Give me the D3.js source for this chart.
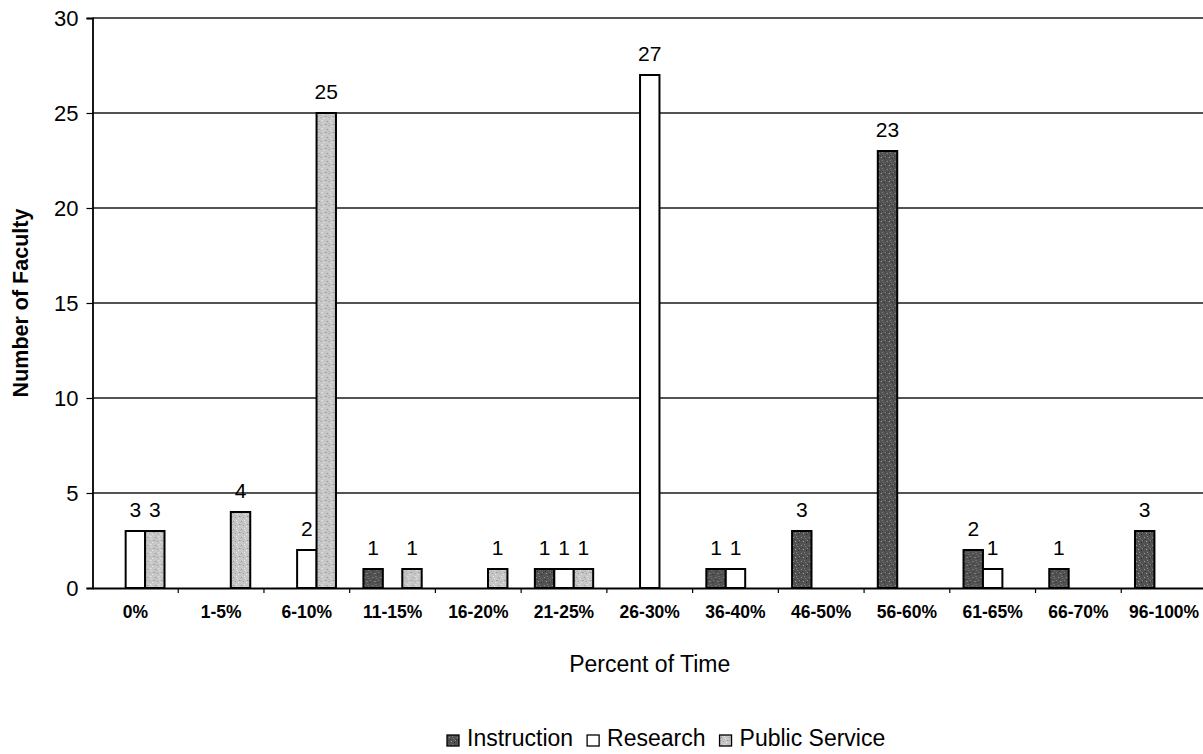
<!DOCTYPE html>
<html>
<head>
<meta charset="utf-8">
<script src="https://cdn.jsdelivr.net/npm/d3@7"></script>
<style>
  html, body { margin: 0; padding: 0; background: #fff; }
  svg { display: block; font-family: "Liberation Sans", Arial, sans-serif; }
</style>
</head>
<body>
<svg id="chart" width="1203" height="754"></svg>
<script>
const categories = ["0%", "1-5%", "6-10%", "11-15%", "16-20%", "21-25%", "26-30%", "36-40%", "46-50%", "56-60%", "61-65%", "66-70%", "96-100%"];
const seriesNames = ["Instruction", "Research", "Public Service"];
const instruction = [0, 0, 0, 1, 0, 1, 0, 1, 3, 23, 2, 1, 3];
const research = [3, 0, 2, 0, 0, 1, 27, 1, 0, 0, 1, 0, 0];
const publicService = [3, 4, 25, 1, 1, 1, 0, 0, 0, 0, 0, 0, 0];
const yTicks = [0, 5, 10, 15, 20, 25, 30];
const xTitle = "Percent of Time";
const yTitle = "Number of Faculty";

const seriesValues = [instruction, research, publicService];
const seriesFill = ["url(#patInstr)", "#ffffff", "url(#patPS)"];

const W = 1203, H = 754;
const plot = { left: 92.5, right: 1207, top: 18, bottom: 588 };

const svg = d3.select("#chart");
svg.append("rect").attr("width", W).attr("height", H).attr("fill", "#fff");

// patterns (speckled textures)
const defs = svg.append("defs");
function speckle(id, base, dots) {
  const p = defs.append("pattern").attr("id", id)
    .attr("patternUnits", "userSpaceOnUse").attr("width", 8).attr("height", 8);
  p.append("rect").attr("width", 8).attr("height", 8).attr("fill", base);
  dots.forEach(d => p.append("rect").attr("x", d[0]).attr("y", d[1])
    .attr("width", d[2]).attr("height", d[2]).attr("fill", d[3]));
}
speckle("patInstr", "#525252", [
  [1, 1, 1, "#9a9a9a"], [5, 2, 1, "#7c7c7c"], [3, 5, 1, "#a8a8a8"], [6, 6, 1, "#2e2e2e"],
  [0, 4, 1, "#333"], [4, 0, 1, "#888"], [2, 3, 1, "#3a3a3a"], [7, 4, 1, "#8c8c8c"]
]);
speckle("patPS", "#c6c6c6", [
  [1, 1, 1, "#8e8e8e"], [5, 2, 1, "#e8e8e8"], [3, 5, 1, "#9a9a9a"], [6, 6, 1, "#ededed"],
  [0, 4, 1, "#a5a5a5"], [4, 0, 1, "#f0f0f0"], [2, 3, 1, "#b0b0b0"], [7, 4, 1, "#999"]
]);

const x0 = d3.scaleBand().domain(categories).range([plot.left, plot.right])
  .paddingInner(0.32).paddingOuter(0.16);
const x1 = d3.scaleBand().domain(seriesNames).range([0, x0.bandwidth()]).padding(0);
const y = d3.scaleLinear().domain([0, 30]).range([plot.bottom, plot.top]);

// gridlines
svg.append("g").selectAll("line").data(yTicks.filter(t => t > 0)).join("line")
  .attr("x1", plot.left).attr("x2", W)
  .attr("y1", d => y(d)).attr("y2", d => y(d))
  .attr("stroke", "#1a1a1a").attr("stroke-width", 1.3);

// bars
const rows = categories.map((c, i) => ({ cat: c, vals: seriesNames.map((s, j) => ({ s, j, v: seriesValues[j][i] })) }));
const groups = svg.append("g").selectAll("g").data(rows).join("g")
  .attr("transform", d => `translate(${x0(d.cat)},0)`);
groups.selectAll("rect").data(d => d.vals.filter(e => e.v > 0)).join("rect")
  .attr("x", d => x1(d.s)).attr("width", x1.bandwidth())
  .attr("y", d => y(d.v)).attr("height", d => y(0) - y(d.v))
  .attr("fill", d => seriesFill[d.j])
  .attr("stroke", "#000").attr("stroke-width", 2);
groups.selectAll("text").data(d => d.vals.filter(e => e.v > 0)).join("text")
  .attr("x", d => x1(d.s) + x1.bandwidth() / 2)
  .attr("y", d => y(d.v) - 14)
  .attr("text-anchor", "middle").attr("font-size", 21).attr("fill", "#000")
  .text(d => d.v);

// y axis
const yAxis = svg.append("g").attr("transform", `translate(${plot.left},0)`)
  .call(d3.axisLeft(y).tickValues(yTicks).tickSize(6).tickPadding(8));
yAxis.select(".domain").attr("stroke", "#000").attr("stroke-width", 1.8);
yAxis.selectAll(".tick line").attr("stroke", "#000").attr("stroke-width", 1.2);
yAxis.selectAll("text").attr("font-size", 22).attr("fill", "#000").attr("font-family", null);

// x axis
const xAxis = svg.append("g").attr("transform", `translate(0,${plot.bottom})`)
  .call(d3.axisBottom(x0).tickSize(0).tickPadding(18));
xAxis.select(".domain").attr("stroke", "#000").attr("stroke-width", 2);
xAxis.selectAll("text").attr("font-size", 17.5).attr("font-weight", "bold").attr("fill", "#000").attr("font-family", null);
const gap = (x0.step() - x0.bandwidth()) / 2;
xAxis.append("g").selectAll("line").data(categories.slice(1)).join("line")
  .attr("x1", d => x0(d) - gap).attr("x2", d => x0(d) - gap)
  .attr("y1", 0).attr("y2", 5).attr("stroke", "#000").attr("stroke-width", 1.2);

// titles
svg.append("text").attr("x", (plot.left + plot.right) / 2).attr("y", 672)
  .attr("text-anchor", "middle").attr("font-size", 23).attr("fill", "#000").text(xTitle);
svg.append("text").attr("transform", `translate(20,${(plot.top + plot.bottom) / 2}) rotate(-90)`)
  .attr("text-anchor", "middle").attr("dy", "0.35em")
  .attr("font-size", 21.5).attr("font-weight", "bold").attr("fill", "#000").text(yTitle);

// legend
const legend = svg.append("g");
let lx = 447;
const ly = 746;
seriesNames.forEach((name, j) => {
  legend.append("rect").attr("x", lx).attr("y", ly - 11).attr("width", 12).attr("height", 11)
    .attr("fill", seriesFill[j]).attr("stroke", "#000").attr("stroke-width", 1.3);
  const t = legend.append("text").attr("x", lx + 20).attr("y", ly)
    .attr("font-size", 23).attr("fill", "#000").text(name);
  lx = lx + 20 + t.node().getComputedTextLength() + 14;
});
</script>
</body>
</html>
